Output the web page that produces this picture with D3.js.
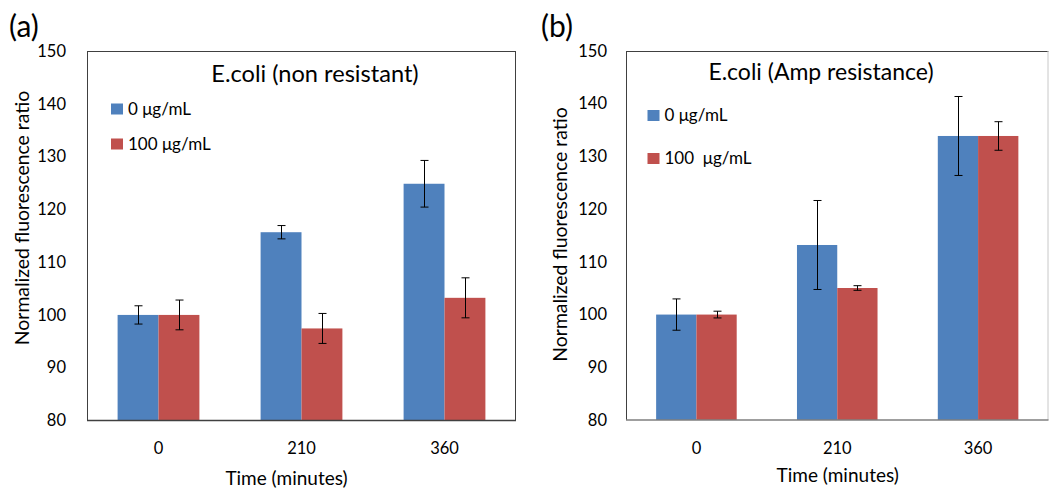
<!DOCTYPE html>
<html>
<head>
<meta charset="utf-8">
<script src="https://d3js.org/d3.v7.min.js"></script>
<style>
  html, body { margin: 0; padding: 0; background: #fff; }
  svg { display: block; }
  text { font-family: Lato, "Open Sans", sans-serif; fill: #000; }
</style>
</head>
<body>
<svg id="chart" width="1049" height="489"></svg>
<script>
// ---- data ----
const categories = ["0", "210", "360"];
const seriesNames = ["0 μg/mL", "100 μg/mL"];
const seriesNamesB = ["0 μg/mL", "100  μg/mL"];
const yTicks = [80, 90, 100, 110, 120, 130, 140, 150];

const aTitle = "E.coli (non resistant)";
const aBlue = [100, 115.67, 124.85];
const aBlueErr = [1.73, 1.26, 4.42];
const aRed = [100, 97.44, 103.24];
const aRedErr = [2.82, 2.84, 3.79];

const bTitle = "E.coli (Amp resistance)";
const bBlue = [100, 113.2, 133.88];
const bBlueErr = [2.97, 8.44, 7.49];
const bRed = [100, 105.04, 133.88];
const bRedErr = [0.64, 0.44, 2.71];

const xTitle = "Time (minutes)";
const yTitle = "Normalized fluorescence ratio";
const colors = ["#4F81BD", "#C0504D"];

const svg = d3.select("#chart");

function drawPanel(o) {
  const g = svg.append("g");
  const y = d3.scaleLinear().domain([80, 150]).range([o.y1, o.y0]);
  const x = d3.scaleBand().domain(categories).range([o.x0, o.x1])
    .paddingInner(0.428).paddingOuter(0.214);
  const xs = d3.scaleBand().domain([0, 1]).range([0, x.bandwidth()]);

  // plot border
  g.append("line").attr("x1", o.x0).attr("x2", o.x1).attr("y1", o.y0 + 0.5).attr("y2", o.y0 + 0.5)
    .attr("stroke", "#404040").attr("stroke-width", 1);
  g.append("line").attr("x1", o.x0 + 0.5).attr("x2", o.x0 + 0.5).attr("y1", o.y0).attr("y2", o.y1)
    .attr("stroke", "#404040").attr("stroke-width", 1);
  g.append("line").attr("x1", o.x1 - 0.5).attr("x2", o.x1 - 0.5).attr("y1", o.y0).attr("y2", o.y1)
    .attr("stroke", o.rightColor).attr("stroke-width", 1);

  const series = [
    { vals: o.blue, errs: o.blueErr },
    { vals: o.red, errs: o.redErr }
  ];
  series.forEach((s, si) => {
    g.append("g").selectAll("rect").data(categories).join("rect")
      .attr("x", (c) => x(c) + xs(si))
      .attr("width", xs.bandwidth())
      .attr("y", (c, i) => y(s.vals[i]))
      .attr("height", (c, i) => y(80) - y(s.vals[i]))
      .attr("fill", colors[si]);
  });
  // error bars
  series.forEach((s, si) => {
    const eg = g.append("g").attr("stroke", "#000").attr("stroke-width", 1);
    categories.forEach((c, i) => {
      const cx = Math.round(x(c) + xs(si) + xs.bandwidth() / 2) + 0.5;
      const top = y(s.vals[i] + s.errs[i]);
      const bot = y(s.vals[i] - s.errs[i]);
      eg.append("line").attr("x1", cx).attr("x2", cx).attr("y1", top).attr("y2", bot);
      eg.append("line").attr("x1", cx - 4).attr("x2", cx + 4).attr("y1", top).attr("y2", top);
      eg.append("line").attr("x1", cx - 4).attr("x2", cx + 4).attr("y1", bot).attr("y2", bot);
    });
  });
  // bottom axis line
  g.append("line").attr("x1", o.x0).attr("x2", o.x1).attr("y1", o.y1).attr("y2", o.y1)
    .attr("stroke", o.axisColor).attr("stroke-width", 1.6);

  // y axis labels
  const yAxis = d3.axisLeft(y).tickValues(yTicks).tickSize(0).tickPadding(o.yPad).tickFormat(d3.format("d"));
  const ya = g.append("g").attr("transform", `translate(${o.x0},0)`).call(yAxis);
  ya.select(".domain").remove();
  ya.selectAll("text").attr("font-size", 16.5).attr("font-family", "Lato").attr("fill", "#000");

  // x axis labels
  const xAxis = d3.axisBottom(x).tickSize(0).tickPadding(0);
  const xa = g.append("g").attr("transform", `translate(0,${o.xLabelY})`).call(xAxis);
  xa.select(".domain").remove();
  xa.selectAll("text").attr("font-size", 16.5).attr("font-family", "Lato").attr("fill", "#000").attr("dy", null);

  // axis titles
  g.append("text").attr("x", o.xTitleX).attr("y", o.xTitleY).attr("text-anchor", "middle")
    .attr("font-size", 19).text(xTitle);
  g.append("text").attr("transform", `translate(${o.yTitleX},${o.yTitleY}) rotate(-90)`)
    .attr("text-anchor", "middle").attr("font-size", 19.4).text(yTitle);

  // chart title
  g.append("text").attr("x", o.titleX).attr("y", o.titleY).attr("text-anchor", "middle")
    .attr("font-size", o.titleSize).text(o.title);

  // legend
  o.names.forEach((n, i) => {
    g.append("rect").attr("x", o.legX).attr("y", o.legY[i] - 11).attr("width", 12).attr("height", 11)
      .attr("fill", colors[i]);
    g.append("text").attr("x", o.legX + 17).attr("y", o.legY[i]).attr("font-size", 17)
      .attr("xml:space", "preserve").style("white-space", "pre").text(n);
  });

  // panel label
  g.append("text").attr("x", o.labX).attr("y", 37).attr("font-size", 30).text(o.label);
}

drawPanel({
  x0: 87, x1: 516, y0: 51, y1: 420.5, rightColor: "#404040", axisColor: "#404040",
  blue: aBlue, blueErr: aBlueErr, red: aRed, redErr: aRedErr,
  yPad: 21, xLabelY: 453.5, xTitleX: 286.5, xTitleY: 484.5,
  yTitleX: 28.5, yTitleY: 218, title: aTitle, titleX: 315, titleY: 81.5, titleSize: 23.6,
  names: seriesNames, legX: 111, legY: [114.5, 149.5], labX: 9, label: "(a)"
});
drawPanel({
  x0: 626, x1: 1048.5, y0: 51, y1: 420, rightColor: "#c8c8c8", axisColor: "#7f7f7f",
  blue: bBlue, blueErr: bBlueErr, red: bRed, redErr: bRedErr,
  yPad: 19, xLabelY: 453.5, xTitleX: 837.7, xTitleY: 482, yTitleX: 566.5, yTitleY: 234.5,
  title: bTitle, titleX: 821, titleY: 80, titleSize: 23, names: seriesNamesB, legX: 647.5, legY: [121, 164],
  labX: 541, label: "(b)"
});
</script>
</body>
</html>
